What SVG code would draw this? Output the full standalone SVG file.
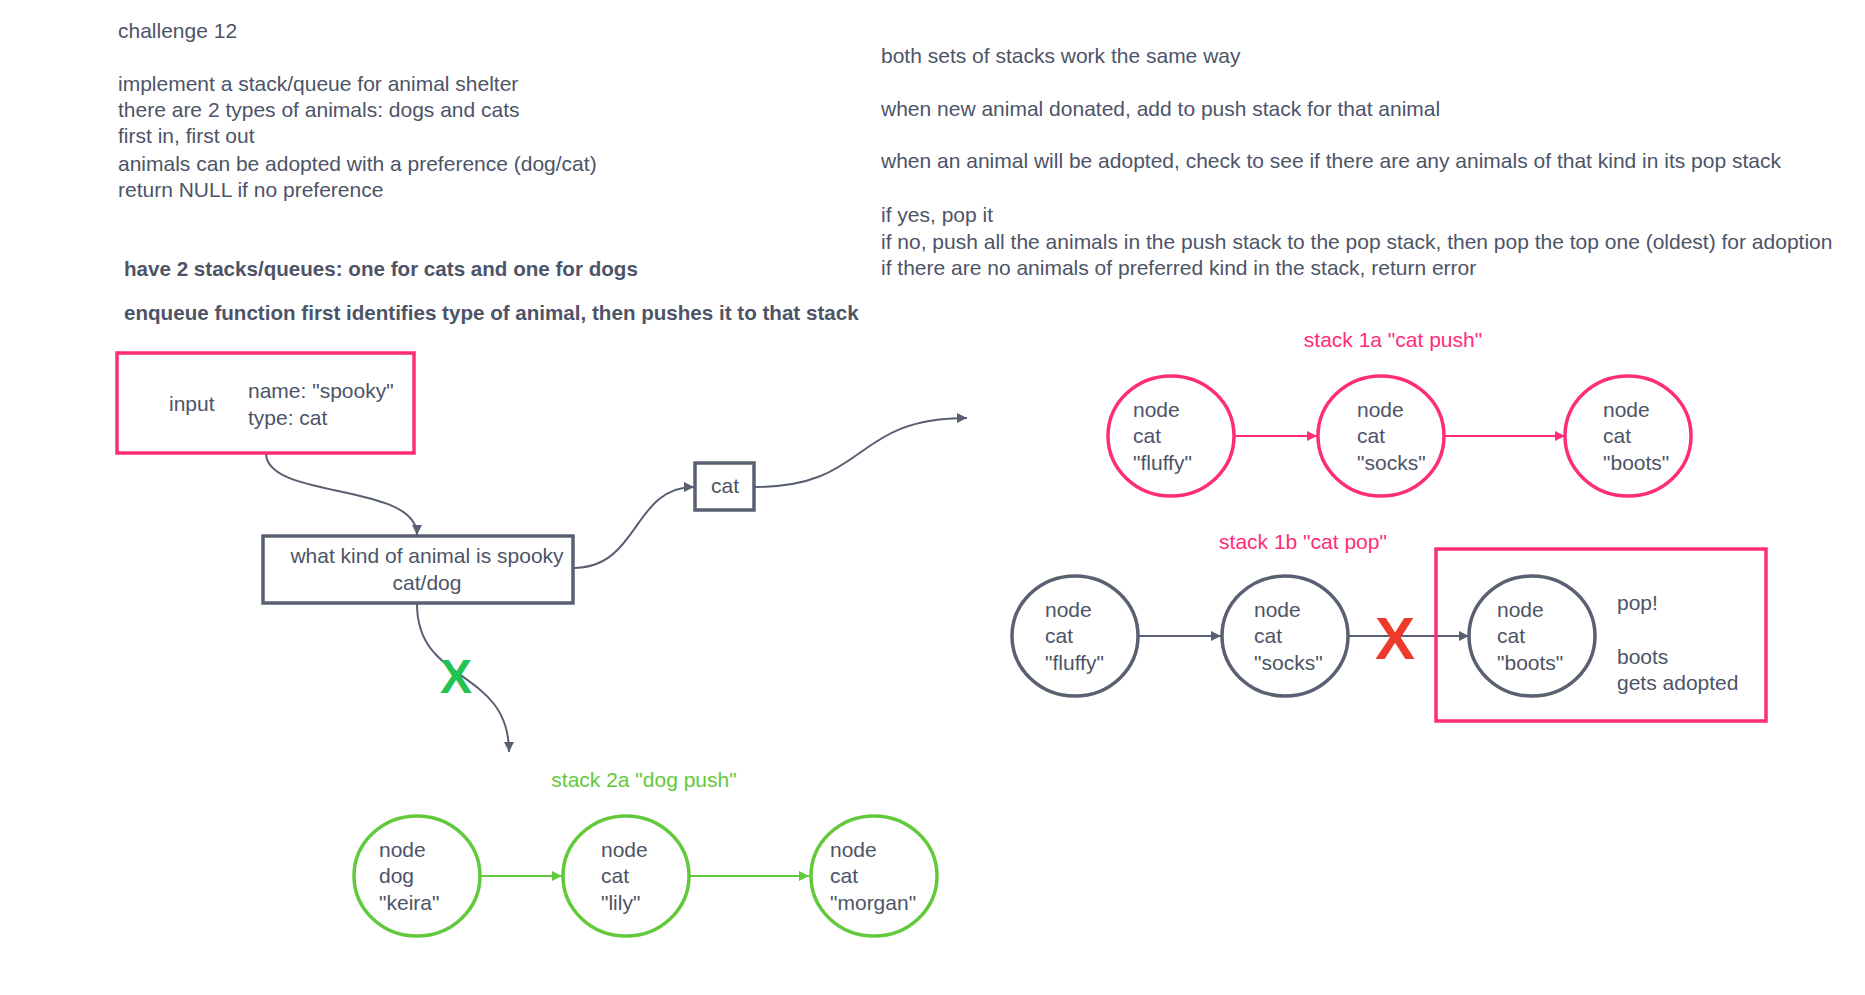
<svg xmlns="http://www.w3.org/2000/svg" width="1865" height="995" viewBox="0 0 1865 995">
<style>
text{font-family:"Liberation Sans",Arial,sans-serif;font-size:21px;fill:#4D5467}
.b{font-weight:bold;font-size:20.6px}
.c{text-anchor:middle}
.pk{fill:#FF2C78}
.gr{fill:#62C93A}
.pkS{fill:none;stroke:#FF2C78;stroke-width:3.5}
.grayS{fill:none;stroke:#596072;stroke-width:3.5}
.grnS{fill:none;stroke:#62C93A;stroke-width:3.5}
.cp{fill:none;stroke:#FF2C78;stroke-width:2}
.cg{fill:none;stroke:#596072;stroke-width:2}
.cn{fill:none;stroke:#62C93A;stroke-width:2}
</style>
<defs>
<marker id="ag" viewBox="0 0 10 10" refX="10" refY="5" markerWidth="10" markerHeight="10" markerUnits="userSpaceOnUse" orient="auto"><path d="M0,0 L10,5 L0,10 Z" fill="#596072"/></marker>
<marker id="ap" viewBox="0 0 10 10" refX="10" refY="5" markerWidth="10" markerHeight="10" markerUnits="userSpaceOnUse" orient="auto"><path d="M0,0 L10,5 L0,10 Z" fill="#FF2C78"/></marker>
<marker id="an" viewBox="0 0 10 10" refX="10" refY="5" markerWidth="10" markerHeight="10" markerUnits="userSpaceOnUse" orient="auto"><path d="M0,0 L10,5 L0,10 Z" fill="#62C93A"/></marker>
</defs>
<rect width="1865" height="995" fill="#ffffff"/>

<g id="notes-left">
<text x="118" y="38">challenge 12</text>
<text x="118" y="91">implement a stack/queue for animal shelter</text>
<text x="118" y="117">there are 2 types of animals: dogs and cats</text>
<text x="118" y="143">first in, first out</text>
<text x="118" y="171">animals can be adopted with a preference (dog/cat)</text>
<text x="118" y="197">return NULL if no preference</text>
<text class="b" x="124" y="276">have 2 stacks/queues: one for cats and one for dogs</text>
<text class="b" x="124" y="320">enqueue function first identifies type of animal, then pushes it to that stack</text>
</g>

<g id="notes-right">
<text x="881" y="63">both sets of stacks work the same way</text>
<text x="881" y="116">when new animal donated, add to push stack for that animal</text>
<text x="881" y="168">when an animal will be adopted, check to see if there are any animals of that kind in its pop stack</text>
<text x="881" y="222">if yes, pop it</text>
<text x="881" y="249">if no, push all the animals in the push stack to the pop stack, then pop the top one (oldest) for adoption</text>
<text x="881" y="275">if there are no animals of preferred kind in the stack, return error</text>
</g>

<g id="connectors">
<path class="cg" d="M266,453 C266,500 417,482 417,535" marker-end="url(#ag)"/>
<path class="cg" d="M573,568 C640,568 632,487 694,487" marker-end="url(#ag)"/>
<path class="cg" d="M755,487 C870,487 850,418 967,418" marker-end="url(#ag)"/>
<path class="cg" d="M417,604 C417,685 509,668 509,752" marker-end="url(#ag)"/>
<line class="cp" x1="1235" y1="436" x2="1317" y2="436" marker-end="url(#ap)"/>
<line class="cp" x1="1444" y1="436" x2="1565" y2="436" marker-end="url(#ap)"/>
<line class="cg" x1="1139" y1="636" x2="1221" y2="636" marker-end="url(#ag)"/>
<line class="cg" x1="1348" y1="636" x2="1469" y2="636" marker-end="url(#ag)"/>
<line class="cn" x1="481" y1="876" x2="562" y2="876" marker-end="url(#an)"/>
<line class="cn" x1="690" y1="876" x2="809" y2="876" marker-end="url(#an)"/>
</g>

<g id="input">
<rect class="pkS" x="117" y="353" width="297" height="100"/>
<text x="169" y="411">input</text>
<text x="248" y="398">name: "spooky"</text>
<text x="248" y="425">type: cat</text>
</g>

<g id="decision">
<rect class="grayS" x="263" y="536" width="310" height="67"/>
<text class="c" x="427" y="563">what kind of animal is spooky</text>
<text class="c" x="427" y="590">cat/dog</text>
</g>

<g id="cat-box">
<rect class="grayS" x="695" y="463" width="59" height="47"/>
<text class="c" x="725" y="493">cat</text>
</g>

<g id="x-green">
<text class="c" x="456" y="693" style="font-weight:bold;font-size:48px;fill:#22C352">X</text>
</g>

<g id="label-1a"><text class="c pk" x="1393" y="347">stack 1a "cat push"</text></g>
<g id="label-1b"><text class="c pk" x="1303" y="549">stack 1b "cat pop"</text></g>
<g id="label-2a"><text class="c gr" x="644" y="787">stack 2a "dog push"</text></g>

<g id="p1"><ellipse class="pkS" cx="1171" cy="436" rx="63" ry="60"/><text x="1133" y="417">node</text><text x="1133" y="443">cat</text><text x="1133" y="470">"fluffy"</text></g>
<g id="p2"><ellipse class="pkS" cx="1381" cy="436" rx="63" ry="60"/><text x="1357" y="417">node</text><text x="1357" y="443">cat</text><text x="1357" y="470">"socks"</text></g>
<g id="p3"><ellipse class="pkS" cx="1628" cy="436" rx="63" ry="60"/><text x="1603" y="417">node</text><text x="1603" y="443">cat</text><text x="1603" y="470">"boots"</text></g>

<g id="g1"><ellipse class="grayS" cx="1075" cy="636" rx="63" ry="60"/><text x="1045" y="617">node</text><text x="1045" y="643">cat</text><text x="1045" y="670">"fluffy"</text></g>
<g id="g2"><ellipse class="grayS" cx="1285" cy="636" rx="63" ry="60"/><text x="1254" y="617">node</text><text x="1254" y="643">cat</text><text x="1254" y="670">"socks"</text></g>
<g id="g3"><ellipse class="grayS" cx="1532" cy="636" rx="63" ry="60"/><text x="1497" y="617">node</text><text x="1497" y="643">cat</text><text x="1497" y="670">"boots"</text></g>

<g id="x-red">
<text class="c" x="1395" y="659" style="font-weight:bold;font-size:60px;fill:#EE3A2B">X</text>
</g>

<g id="pop-box">
<rect class="pkS" x="1436" y="549" width="330" height="172"/>
<text x="1617" y="610">pop!</text>
<text x="1617" y="664">boots</text>
<text x="1617" y="690">gets adopted</text>
</g>

<g id="n1"><ellipse class="grnS" cx="417" cy="876" rx="63" ry="60"/><text x="379" y="857">node</text><text x="379" y="883">dog</text><text x="379" y="910">"keira"</text></g>
<g id="n2"><ellipse class="grnS" cx="626" cy="876" rx="63" ry="60"/><text x="601" y="857">node</text><text x="601" y="883">cat</text><text x="601" y="910">"lily"</text></g>
<g id="n3"><ellipse class="grnS" cx="874" cy="876" rx="63" ry="60"/><text x="830" y="857">node</text><text x="830" y="883">cat</text><text x="830" y="910">"morgan"</text></g>
</svg>
